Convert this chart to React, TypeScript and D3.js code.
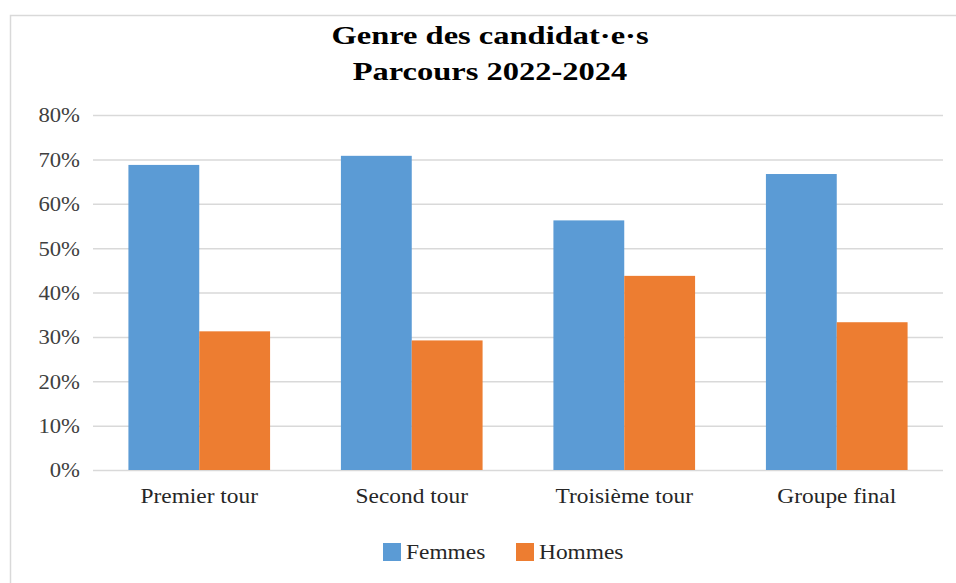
import { useEffect, useRef } from "react";
import * as d3 from "d3";

const categories = ["Premier tour", "Second tour", "Troisième tour", "Groupe final"];
const seriesNames = ["Femmes", "Hommes"];
const femmes = [0.6875, 0.708, 0.5625, 0.667];
const hommes = [0.3125, 0.292, 0.4375, 0.333];
const yTicks = [0, 0.1, 0.2, 0.3, 0.4, 0.5, 0.6, 0.7, 0.8];
const titleLines = ["Genre des candidat·e·s", "Parcours 2022-2024"];

const colors = ["#5B9BD5", "#ED7D31"];
const W = 956;
const H = 583;
const FONT = "'Liberation Serif', 'Times New Roman', serif";

export default function App() {
  const ref = useRef<SVGSVGElement>(null);

  useEffect(() => {
    const svg = d3.select(ref.current);
    svg.selectAll("*").remove();

    const margin = { left: 93, right: 13, top: 115, bottom: 113 };
    const x0 = d3
      .scaleBand()
      .domain(categories)
      .range([margin.left, W - margin.right])
      .paddingInner(1 / 3)
      .paddingOuter(1 / 6);
    const x1 = d3.scaleBand().domain(seriesNames).range([0, x0.bandwidth()]);
    const y = d3.scaleLinear().domain([0, 0.8]).range([H - margin.bottom, margin.top]);

    // cadre
    svg
      .append("rect")
      .attr("x", 10.5)
      .attr("y", 15.5)
      .attr("width", 1000)
      .attr("height", 700)
      .attr("fill", "white")
      .attr("stroke", "#d9d9d9")
      .attr("stroke-width", 1.5);

    // grille
    const yAxis = d3
      .axisLeft(y)
      .tickValues(yTicks)
      .tickSize(-(W - margin.left - margin.right))
      .tickPadding(13)
      .tickFormat(d3.format(".0%"));
    svg
      .append("g")
      .attr("transform", `translate(${margin.left},0)`)
      .call(yAxis)
      .call((g) => g.select(".domain").remove())
      .call((g) => g.selectAll(".tick line").attr("stroke", "#d9d9d9").attr("stroke-width", 1.5))
      .call((g) =>
        g
          .selectAll(".tick text")
          .attr("fill", "#404040")
          .attr("font-family", FONT)
          .attr("font-size", 21)
          .attr("dy", "0.33em")
          .attr("transform", "scale(1.08,1)")
          .attr("x", -13 / 1.08)
      );

    // barres
    const rows = categories.map((c, i) => ({ cat: c, vals: [femmes[i], hommes[i]] }));
    const groups = svg
      .selectAll("g.cat")
      .data(rows)
      .enter()
      .append("g")
      .attr("class", "cat")
      .attr("transform", (d) => `translate(${x0(d.cat)},0)`);
    groups
      .selectAll("rect")
      .data((d) => d.vals.map((v, k) => ({ name: seriesNames[k], v, k })))
      .enter()
      .append("rect")
      .attr("x", (d) => x1(d.name)!)
      .attr("y", (d) => y(d.v))
      .attr("width", x1.bandwidth())
      .attr("height", (d) => y(0) - y(d.v))
      .attr("fill", (d) => colors[d.k]);

    // étiquettes des catégories
    svg
      .selectAll("text.cat")
      .data(categories)
      .enter()
      .append("text")
      .attr("class", "cat")
      .attr("transform", (d) => `translate(${x0(d)! + x0.bandwidth() / 2},503) scale(1.17,1)`)
      .attr("text-anchor", "middle")
      .attr("font-family", FONT)
      .attr("font-size", 20)
      .attr("fill", "#262626")
      .text((d) => d);

    // titre
    svg
      .selectAll("text.title")
      .data(titleLines)
      .enter()
      .append("text")
      .attr("class", "title")
      .attr("transform", (_d, i) => `translate(${W / 2 + 12},${44 + i * 36}) scale(1.3,1)`)
      .attr("text-anchor", "middle")
      .attr("font-family", FONT)
      .attr("font-weight", "bold")
      .attr("font-size", 25)
      .attr("fill", "#000")
      .text((d) => d);

    // légende
    const legendX = [383, 516];
    const leg = svg
      .selectAll("g.leg")
      .data(seriesNames)
      .enter()
      .append("g")
      .attr("class", "leg")
      .attr("transform", (_d, i) => `translate(${legendX[i]},543)`);
    leg
      .append("rect")
      .attr("width", 18)
      .attr("height", 18)
      .attr("fill", (_d, i) => colors[i]);
    leg
      .append("text")
      .attr("transform", "translate(23,16) scale(1.17,1)")
      .attr("font-family", FONT)
      .attr("font-size", 20)
      .attr("fill", "#262626")
      .text((d) => d);
  }, []);

  return (
    <svg
      ref={ref}
      width={W}
      height={H}
      style={{ position: "absolute", left: 0, top: 0, background: "white" }}
    />
  );
}
